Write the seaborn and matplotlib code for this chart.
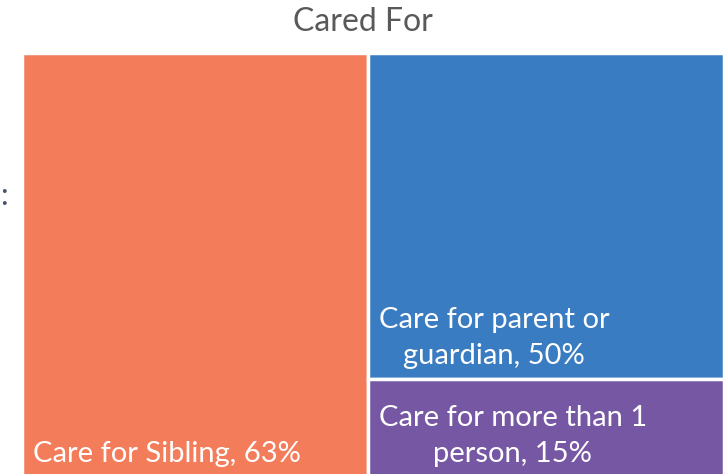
import matplotlib.pyplot as plt
import seaborn as sns

# treemap data
categories = ["Care for Sibling", "Care for parent or\nguardian", "Care for more than 1\nperson"]
percent = [63, 50, 15]
colors = ["#f37c5a", "#3a7cc1", "#7657a4"]

sns.set_theme(style="white")
plt.rcParams['font.family'] = ['Lato', 'DejaVu Sans']

fig = plt.figure(figsize=(7.25, 4.74), dpi=100)
ax = fig.add_axes([22 / 725, -3 / 474, 702 / 725, 424 / 474])

# simple slice layout: first item is a full-height column,
# the others share the right column, stacked top to bottom
total = sum(percent)
rest = total - percent[0]
w0 = percent[0] / total
h1 = percent[1] / rest
h2 = percent[2] / rest
rects = [(0, 0, w0, 1), (w0, 1 - h1, 1 - w0, h1), (w0, 0, 1 - w0, h2)]

for (x, y, w, h), c in zip(rects, colors):
    ax.bar(x, h, width=w, bottom=y, align='edge', color=c,
           edgecolor='white', linewidth=2.5)

for (x, y, w, h), cat, p in zip(rects, categories, percent):
    ax.annotate(f"{cat}, {p}%", xy=(x, y), xytext=(8, 7), textcoords='offset points',
                ha='left', va='bottom', multialignment='center', linespacing=1.5,
                color='white', fontsize=21)

ax.set_xlim(0, 1)
ax.set_ylim(0, 1)
ax.axis('off')

fig.text(0.5, 1 - 22 / 474, "Cared For", ha='center', va='center',
         color='#595959', fontsize=23)
fig.text(0 / 725, 1 - 196 / 474, ":", ha='left', va='center',
         color='#44546a', fontsize=22)

fig.savefig('out.png', dpi=100)
